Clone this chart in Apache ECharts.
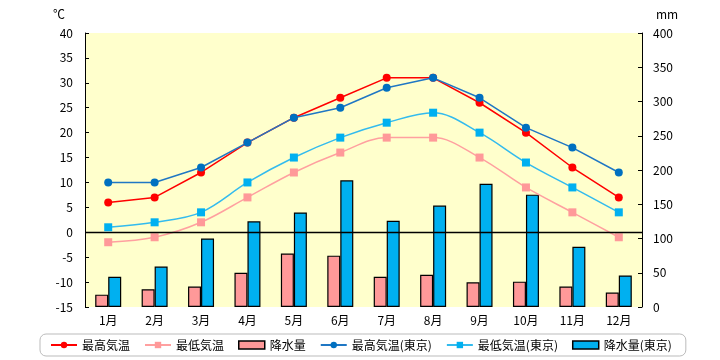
<!DOCTYPE html>
<html><head><meta charset="utf-8">
<script src="https://cdn.jsdelivr.net/npm/echarts@6/dist/echarts.min.js"></script>
<style>html,body{margin:0;padding:0;background:#fff}#c{width:720px;height:360px}</style>
</head><body><div id="c"></div>
<script>
const months = ['1月','2月','3月','4月','5月','6月','7月','8月','9月','10月','11月','12月'];
const maxTemp = [6, 7, 12, 18, 23, 27, 31, 31, 26, 20, 13, 7];
const minTemp = [-2, -1, 2, 7, 12, 16, 19, 19, 15, 9, 4, -1];
const precip = [18, 26, 30, 50, 78, 75, 44, 47, 36, 37, 30, 21];
const maxTempTokyo = [10, 10, 13, 18, 23, 25, 29, 31, 27, 21, 17, 12];
const minTempTokyo = [1, 2, 4, 10, 15, 19, 22, 24, 20, 14, 9, 4];
const precipTokyo = [44, 59, 100, 125, 138, 185, 126, 148, 180, 164, 88, 46];
const tempTicks = {min: -15, max: 40, interval: 5};
const precipTicks = {min: 0, max: 400, interval: 50};

const font = '"Noto Sans CJK JP", sans-serif';
const chart = echarts.init(document.getElementById('c'));
chart.setOption({
  animation: false,
  textStyle: {fontFamily: font},
  grid: {left: 85, right: 78, top: 33, bottom: 53, show: true, backgroundColor: '#FFFFCC', borderWidth: 0},
  graphic: [
    {type: 'text', left: 53, top: 8, style: {text: '℃', font: '12px ' + font, fill: '#000'}},
    {type: 'text', left: 656, top: 8, style: {text: 'mm', font: '12px ' + font, fill: '#000'}}
  ],
  legend: {
    left: 40, top: 334, width: 645,
    padding: [5, 14, 5, 10],
    borderColor: '#BBBBBB', borderWidth: 1, borderRadius: 6,
    itemWidth: 26, itemHeight: 8, itemGap: 14,
    textStyle: {fontFamily: font, fontSize: 12, color: '#000'},
    data: [
      {name: '最高気温'},
      {name: '最低気温'},
      {name: '降水量', icon: 'rect', itemStyle: {borderWidth: 1.5}},
      {name: '最高気温(東京)'},
      {name: '最低気温(東京)'},
      {name: '降水量(東京)', icon: 'rect', itemStyle: {borderWidth: 1.5}}
    ]
  },
  xAxis: {
    type: 'category', data: months, boundaryGap: true,
    axisLine: {show: false}, axisTick: {show: false},
    axisLabel: {color: '#000', fontSize: 12, margin: 7, fontFamily: font}
  },
  yAxis: [
    {type: 'value', min: tempTicks.min, max: tempTicks.max, interval: tempTicks.interval,
     axisLine: {show: true, lineStyle: {color: '#000', width: 1}},
     axisTick: {show: true, inside: true, length: 4, lineStyle: {color: '#000'}},
     axisLabel: {color: '#000', fontSize: 12, margin: 12, fontFamily: font},
     splitLine: {show: false}},
    {type: 'value', min: precipTicks.min, max: precipTicks.max, interval: precipTicks.interval,
     position: 'right',
     axisLine: {show: true, lineStyle: {color: '#000', width: 1}},
     axisTick: {show: true, inside: true, length: 4, lineStyle: {color: '#000'}},
     axisLabel: {color: '#000', fontSize: 12, margin: 11, fontFamily: font},
     splitLine: {show: false}}
  ],
  series: [
    {name: '最高気温', type: 'line', data: maxTemp, yAxisIndex: 0, z: 4,
     symbol: 'circle', symbolSize: 8, color: '#FF0000',
     lineStyle: {color: '#FF0000', width: 1.5}, itemStyle: {color: '#FF0000'},
     markLine: {silent: true, symbol: 'none', label: {show: false},
       lineStyle: {color: '#000', width: 1.3, type: 'solid'}, data: [{yAxis: 0}]}},
    {name: '最低気温', type: 'line', data: minTemp, yAxisIndex: 0, z: 4, smooth: 0.35,
     symbol: 'rect', symbolSize: 8, color: '#FF9999',
     lineStyle: {color: '#FFA0A0', width: 1.5}, itemStyle: {color: '#FF9999'}},
    {name: '降水量', type: 'bar', data: precip, yAxisIndex: 1, z: 1,
     barWidth: 13, barGap: '0%', color: '#FF9999',
     itemStyle: {color: '#FF9999', borderColor: '#000', borderWidth: 1.2}},
    {name: '最高気温(東京)', type: 'line', data: maxTempTokyo, yAxisIndex: 0, z: 5,
     symbol: 'circle', symbolSize: 8, color: '#0070C0',
     lineStyle: {color: '#1F77C4', width: 1.5}, itemStyle: {color: '#0070C0'}},
    {name: '最低気温(東京)', type: 'line', data: minTempTokyo, yAxisIndex: 0, z: 5, smooth: 0.35,
     symbol: 'rect', symbolSize: 8, color: '#00B0F0',
     lineStyle: {color: '#33BBEE', width: 1.5}, itemStyle: {color: '#00B0F0'}},
    {name: '降水量(東京)', type: 'bar', data: precipTokyo, yAxisIndex: 1, z: 1,
     barWidth: 13, barGap: '0%', color: '#00B0F0',
     itemStyle: {color: '#00B0F0', borderColor: '#000', borderWidth: 1.2}}
  ]
});
</script></body></html>
